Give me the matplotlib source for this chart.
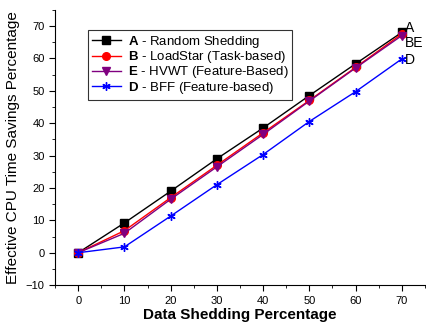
import numpy as np
import matplotlib
matplotlib.use('Agg')
import matplotlib.pyplot as plt

plt.rcParams['font.family'] = 'Liberation Sans'
plt.rcParams['mathtext.fontset'] = 'custom'
plt.rcParams['mathtext.bf'] = 'Liberation Sans:bold'
plt.rcParams['mathtext.rm'] = 'Liberation Sans'

# data
shed = [0, 10, 20, 30, 40, 50, 60, 70]
a_random = [0, 9.2, 19.0, 29.0, 38.5, 48.5, 58.3, 68.0]
b_loadstar = [0, 6.8, 17.0, 27.0, 37.0, 47.0, 57.2, 67.5]
e_hvwt = [0, 6.0, 16.5, 26.5, 36.5, 46.8, 57.0, 67.0]
d_bff = [0, 1.8, 11.3, 21.0, 30.3, 40.5, 49.7, 59.8]

fig = plt.figure(figsize=(4.27, 3.24), dpi=100)
ax = fig.add_axes([0.129, 0.12, 0.866, 0.85])

ax.plot(shed, a_random, color='black', lw=1, marker='s', ms=5.5,
        label=r'$\bf{A}$ - Random Shedding')
ax.plot(shed, b_loadstar, color='red', lw=1, marker='o', ms=5.5,
        label=r'$\bf{B}$ - LoadStar (Task-based)')
ax.plot(shed, e_hvwt, color='#800080', lw=1, marker='v', ms=5.5,
        label=r'$\bf{E}$ - HVWT (Feature-Based)')
ax.plot(shed, d_bff, color='blue', lw=1, marker=(6, 2, 0), ms=6,
        label=r'$\bf{D}$ - BFF (Feature-based)')

# end labels
ax.text(70.7, 68.0, 'A', fontsize=10)
ax.text(70.7, 63.5, 'BE', fontsize=10)
ax.text(70.7, 58.3, 'D', fontsize=10)

ax.set_xlim(-5, 75)
ax.set_ylim(-10, 75)
ax.set_xticks(range(0, 80, 10))
ax.set_yticks(range(-10, 80, 10))
ax.set_xticks(range(-5, 80, 5), minor=True)
ax.set_yticks(range(-10, 80, 5), minor=True)
ax.tick_params(labelsize=8, direction='out', length=4)
ax.tick_params(which='minor', direction='out', length=2)
ax.spines['top'].set_visible(False)
ax.spines['right'].set_visible(False)

ax.set_xlabel('Data Shedding Percentage', fontsize=11, fontweight='bold', labelpad=2)
ax.set_ylabel('Effective CPU Time Savings Percentage', fontsize=11)

leg = ax.legend(loc='upper left', bbox_to_anchor=(0.089, 0.927), fontsize=9.5,
                frameon=True, fancybox=False, edgecolor='black',
                handlelength=2.2, borderpad=0.3, labelspacing=-0.05,
                handletextpad=0.5, borderaxespad=0)
leg.get_frame().set_linewidth(0.8)

fig.savefig('out.png', dpi=100)
